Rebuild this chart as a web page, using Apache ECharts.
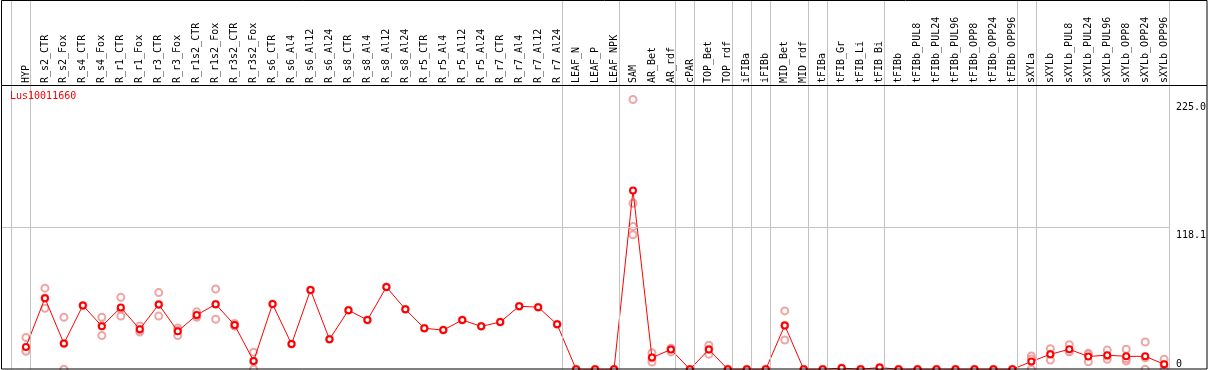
<!DOCTYPE html>
<html>
<head>
<meta charset="utf-8">
<script src="https://cdn.jsdelivr.net/npm/echarts@6/dist/echarts.min.js"></script>
<style>
html,body{margin:0;padding:0;background:#fff;}
#chart{width:1209px;height:370px;}
</style>
</head>
<body>
<div id="chart"></div>
<script>
const categories = ["HYP","R_s2_CTR","R_s2_Fox","R_s4_CTR","R_s4_Fox","R_r1_CTR","R_r1_Fox","R_r3_CTR","R_r3_Fox","R_r1s2_CTR","R_r1s2_Fox","R_r3s2_CTR","R_r3s2_Fox","R_s6_CTR","R_s6_Al4","R_s6_Al12","R_s6_Al24","R_s8_CTR","R_s8_Al4","R_s8_Al12","R_s8_Al24","R_r5_CTR","R_r5_Al4","R_r5_Al12","R_r5_Al24","R_r7_CTR","R_r7_Al4","R_r7_Al12","R_r7_Al24","LEAF_N","LEAF_P","LEAF_NPK","SAM","AR_Bet","AR_rdf","cPAR","TOP_Bet","TOP_rdf","iFIBa","iFIBb","MID_Bet","MID_rdf","tFIBa","tFIB_Gr","tFIB_Li","tFIB_Bi","tFIBb","tFIBb_PUL8","tFIBb_PUL24","tFIBb_PUL96","tFIBb_OPP8","tFIBb_OPP24","tFIBb_OPP96","sXYLa","sXYLb","sXYLb_PUL8","sXYLb_PUL24","sXYLb_PUL96","sXYLb_OPP8","sXYLb_OPP24","sXYLb_OPP96"];

const means = [18.7,59.3,21.5,53.3,36.0,51.5,33.4,54.1,31.7,45.2,54.3,36.9,6.9,54.4,21.0,66.1,25.0,49.3,41.1,68.6,50.1,34.2,32.7,41.1,35.8,39.4,52.6,51.8,37.5,0,0,0,149.2,9.8,16.5,0,16.5,0,0,0,36.6,0,0,1.0,0,1.5,0,0,0,0,0,0,0,6.5,12.5,16.7,10.7,11.8,10.8,10.8,4.2];

const replicates = [
  [26.5,16.0,15.0],[67.7,50.9,59.5],[43.4,0,21.5],[53.3],[43.4,28.2,36.3],
  [60.0,44.4,50.3],[36.1,31.1,33.0],[64.0,44.4,54.0],[34.4,28.2,32.4],[47.9,43.4,44.5],
  [67.0,41.7,54.2],[38.3,36.0,36.5],[14.3,0,6.5],[54.4],[21.0],
  [66.1],[25.0],[49.3],[41.1],[68.6],
  [50.1],[34.2],[32.7],[41.1],[35.8],
  [39.4],[52.6],[51.8],[37.5],[0],
  [0],[0],[225.0,138.5,119.2,112.2],[13.9,6.1,9.5],[17.6,14.5,17.0],
  [0],[20.1,12.6,16.8],[0],[0],[0],
  [48.7,24.4,36.7],[0],[0],[1.0],[0],
  [1.5],[0],[0],[0],[0],
  [0],[0],[0],[11.1,0,8.5],[17.2,7.8,12.5],
  [20.5,15.0,14.6],[13.3,6.3,12.5],[16.0,8.4,11.0],[16.7,6.9,8.8],[22.8,0,9.6],
  [8.3,0.5,3.8]
];

const yLabelBottom = [0];
const yLabelTop = [118.1, 225.0];
const gridLineValues = [118.1];
// index of the last category of each group (-1 = line before the first group)
const groupEnds = [-1,0,28,31,34,35,37,38,39,41,42,45,52,53,60];

const FONT = 'DejaVu Sans Mono';
const idx = categories.map((c, i) => i);
const meanData = means.map((v, i) => [i, v]);
const repData = [];
replicates.forEach((arr, i) => arr.forEach(v => repData.push([i, v])));

const sepLines = groupEnds.map(g => ({ xAxis: g + 0.25 }));
const hLines = gridLineValues.map(v => ({ yAxis: v }));

const chart = echarts.init(document.getElementById('chart'), null, { renderer: 'canvas' });
chart.setOption({
  animation: false,
  backgroundColor: '#fff',
  title: {
    text: 'Lus10011660',
    left: 10, top: 91, padding: 0,
    textStyle: { color: '#ff0000', fontFamily: FONT, fontSize: 10, fontWeight: 'normal' }
  },
  grid: { left: 1, right: 38.25, top: 0, bottom: 0.7, containLabel: false },
  xAxis: {
    type: 'value',
    position: 'top',
    offset: -85,
    min: -1.3158,
    max: 60.25,
    axisLine: { show: false },
    axisTick: { show: false },
    splitLine: { show: false },
    axisLabel: {
      customValues: idx,
      formatter: v => categories[Math.round(v)],
      rotate: 90,
      margin: 2,
      color: '#000',
      fontFamily: FONT,
      fontSize: 10
    }
  },
  yAxis: [{
    type: 'value', position: 'right', min: 0, max: 308,
    axisLine: { show: false }, axisTick: { show: false }, splitLine: { show: false },
    axisLabel: { customValues: yLabelBottom, formatter: v => String(v), verticalAlign: 'bottom', margin: 7, color: '#000', fontFamily: FONT, fontSize: 10 }
  }, {
    type: 'value', position: 'right', min: 0, max: 308,
    axisLine: { show: false }, axisTick: { show: false }, splitLine: { show: false },
    axisLabel: { customValues: yLabelTop, formatter: v => v.toFixed(1), verticalAlign: 'top', margin: 7, padding: [3, 0, 0, 0], color: '#000', fontFamily: FONT, fontSize: 10 }
  }],
  series: [{
    type: 'scatter',
    data: repData,
    symbol: 'emptyCircle',
    symbolSize: 7,
    itemStyle: { color: '#e88e8e', borderColor: '#e88e8e', borderWidth: 1 },
    silent: true,
    z: 2,
    markLine: {
      silent: true,
      symbol: 'none',
      label: { show: false },
      lineStyle: { color: '#c4c4c4', width: 1, type: 'solid' },
      data: sepLines.concat(hLines)
    }
  }, {
    type: 'line',
    data: meanData,
    symbol: 'emptyCircle',
    symbolSize: 6,
    lineStyle: { color: '#ff0000', width: 1 },
    itemStyle: { color: '#ff0000', borderColor: '#e00000', borderWidth: 1.5 },
    silent: true,
    z: 3
  }],
  graphic: [{
    type: 'rect',
    shape: { x: 1.5, y: 0.5, width: 1205.5, height: 368.5 },
    style: { fill: 'none', stroke: '#000', lineWidth: 1 },
    silent: true, z: 100
  }, {
    type: 'line',
    shape: { x1: 1, y1: 85.5, x2: 1207, y2: 85.5 },
    style: { stroke: '#000', lineWidth: 1 },
    silent: true, z: 100
  }]
});
</script>
</body>
</html>
